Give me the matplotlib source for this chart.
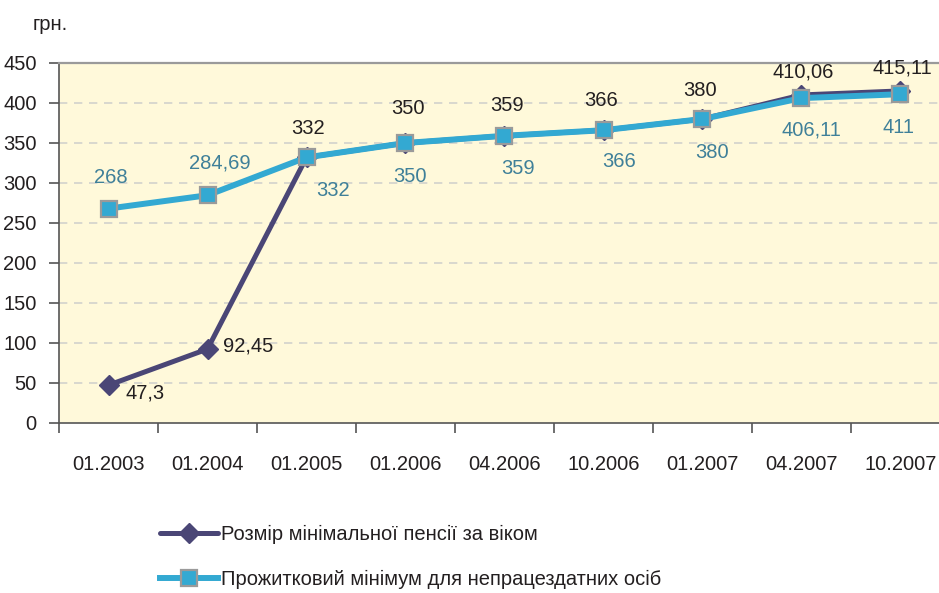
import matplotlib
matplotlib.use("Agg")
import matplotlib.pyplot as plt
from matplotlib import font_manager as fm
import numpy as np

categories = ["01.2003", "01.2004", "01.2005", "01.2006", "04.2006",
              "10.2006", "01.2007", "04.2007", "10.2007"]
pension = [47.3, 92.45, 332, 350, 359, 366, 380, 410.06, 415.11]
pension_labels = ["47,3", "92,45", "332", "350", "359", "366", "380", "410,06", "415,11"]
minimum = [268, 284.69, 332, 350, 359, 366, 380, 406.11, 411]
minimum_labels = ["268", "284,69", "332", "350", "359", "366", "380", "406,11", "411"]
yticks = [0, 50, 100, 150, 200, 250, 300, 350, 400, 450]
series_names = ["Розмір мінімальної пенсії за віком",
                "Прожитковий мінімум для непрацездатних осіб"]

# label offsets in pixels (style)
pension_off = [(37, -8), (41, 3), (2, 29), (2, 34), (3, 30), (-2, 30), (-2, 28), (2, 23), (2, 23)]
minimum_off = [(2, 31), (12, 32), (27, -33), (4, -33), (14, -33), (16, -31), (10, -34), (10, -32), (-2, -33)]

names = {f.name for f in fm.fontManager.ttflist}
fam = "Liberation Sans Narrow" if "Liberation Sans Narrow" in names else "Liberation Sans"
plt.rcParams['font.family'] = [fam, 'DejaVu Sans']

DARK = "#4A4676"
LIGHT = "#33A9D2"
LIGHT_TXT = "#3F8099"
TXT = "#231F20"

fig = plt.figure(figsize=(9.39, 5.93), dpi=100)
W, H = 939, 593
ax = fig.add_axes([59 / W, 170 / H, 891 / W, 360 / H])
ax.set_facecolor("#FFF9DA")

x = np.arange(len(categories))
ax.plot(x, pension, color=DARK, lw=3.6, marker="D", ms=10.5, mfc=DARK, mec=DARK, zorder=3,
        label=series_names[0], solid_capstyle="round")
ax.plot(x, minimum, color=LIGHT, lw=4.3, marker="s", ms=12, mfc=LIGHT, mec="#9A9A9A", mew=1.6,
        zorder=4, label=series_names[1])

fs = 14.5
for xi, v, t, o in zip(x, pension, pension_labels, pension_off):
    ax.annotate(t, (xi, v), xytext=o, textcoords="offset pixels", ha="center", va="center",
                fontsize=fs, color=TXT, zorder=5)
for xi, v, t, o in zip(x, minimum, minimum_labels, minimum_off):
    ax.annotate(t, (xi, v), xytext=o, textcoords="offset pixels", ha="center", va="center",
                fontsize=fs, color=LIGHT_TXT, zorder=5)

ax.set_xlim(-0.5, len(categories) - 0.5)
ax.set_ylim(0, 450)
ax.set_yticks(yticks)
ax.set_yticklabels([str(t) for t in yticks])
for t in yticks[1:-1]:
    ax.axhline(t, color="#D2D2CC", lw=1.2, ls=(0, (5, 4)), zorder=1)

ax.set_xticks(x)
ax.set_xticklabels(categories)
ax.set_xticks(np.arange(len(categories) + 1) - 0.5, minor=True)
ax.tick_params(axis="x", which="major", length=0, pad=23, labelsize=fs, colors=TXT)
ax.tick_params(axis="x", which="minor", length=7, width=1.2, color="#555555")
ax.tick_params(axis="y", length=7, width=1.2, color="#555555", pad=9, labelsize=fs, labelcolor=TXT)

for s in ["left", "bottom"]:
    ax.spines[s].set_color("#555555")
    ax.spines[s].set_linewidth(1.2)
ax.spines["top"].set_color("#9A9A9A")
ax.spines["top"].set_linewidth(1.6)
ax.spines["right"].set_visible(False)

fig.text(33 / W, 1 - 25 / H, "грн.", fontsize=fs, color=TXT, va="center", ha="left")

fig.legend(loc="upper left", bbox_to_anchor=(152 / W, 1 - 517 / H), frameon=False,
           fontsize=fs, handlelength=2.9, handletextpad=0.15, labelspacing=1.3,
           labelcolor=TXT, borderaxespad=0)

fig.savefig("out.png", dpi=100)
